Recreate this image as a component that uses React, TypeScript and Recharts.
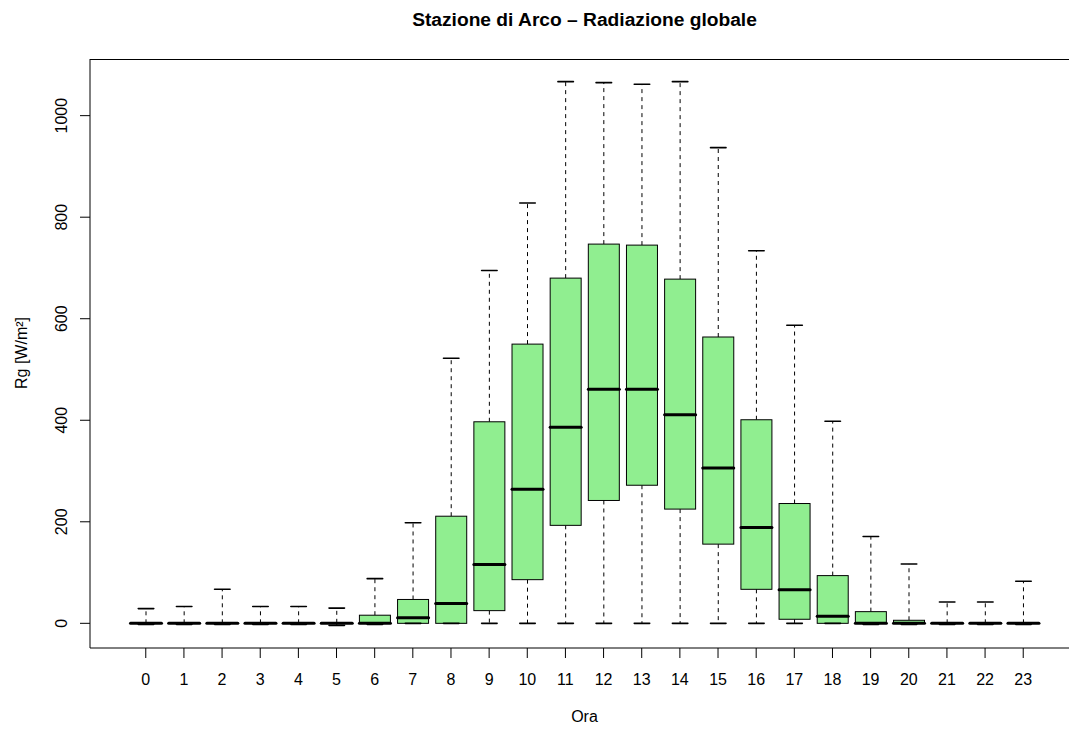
import React from 'react';
import { ComposedChart, Bar, XAxis, YAxis } from 'recharts';

const hours = [0, 1, 2, 3, 4, 5, 6, 7, 8, 9, 10, 11, 12, 13, 14, 15, 16, 17, 18, 19, 20, 21, 22, 23];
const whiskerLow = [-2, -2, -2, -2, -2, -4, -2, 0, 0, 0, 0, 0, 0, 0, 0, 0, 0, 0, 0, -2, -2, -2, -2, -2];
const q1Values = [0, 0, 0, 0, 0, 0, 0, 0, 0, 25, 86, 193, 242, 272, 225, 156, 67, 8, 0, 0, 0, 0, 0, 0];
const medianValues = [0, 0, 0, 0, 0, 0, 0, 11, 39, 116, 264, 386, 461, 461, 411, 306, 189, 66, 14, 0, 0, 0, 0, 0];
const q3Values = [0, 0, 0, 0, 0, 1, 16, 47, 211, 397, 550, 680, 747, 745, 678, 564, 401, 236, 94, 23, 6, 0, 0, 0];
const whiskerHigh = [29, 33, 67, 33, 33, 30, 88, 198, 522, 695, 828, 1067, 1065, 1062, 1067, 937, 734, 587, 398, 171, 117, 42, 42, 83];
const yTicks = [0, 200, 400, 600, 800, 1000];

const title = 'Stazione di Arco \u2013 Radiazione globale';
const xTitle = 'Ora';
const yTitle = 'Rg [W/m\u00B2]';

const data = hours.map((h, i) => ({
  hour: String(h),
  range: [whiskerLow[i], whiskerHigh[i]],
  lo: whiskerLow[i],
  q1: q1Values[i],
  med: medianValues[i],
  q3: q3Values[i],
  hi: whiskerHigh[i],
}));

const FONT = '"Liberation Sans", Arial, Helvetica, sans-serif';

const BoxShape = (props: any) => {
  const { x, y, width, height, payload } = props;
  if (payload == null || height == null) return null;
  const { lo, hi, q1, med, q3 } = payload;
  const k = height / (hi - lo);
  const py = (v: number) => y + (hi - v) * k;
  const cx = x + width / 2;
  const sw = width / 4;
  const yq1 = py(q1);
  const yq3 = py(q3);
  return (
    <g>
      <line x1={cx} x2={cx} y1={yq3} y2={py(hi)} stroke="#000" strokeWidth={1} strokeDasharray="4 4" />
      <line x1={cx} x2={cx} y1={yq1} y2={py(lo)} stroke="#000" strokeWidth={1} strokeDasharray="4 4" />
      <rect x={x} y={yq3} width={width} height={Math.max(0, yq1 - yq3)} fill="#90EE90" stroke="#000" strokeWidth={1} />
      <line x1={x} x2={x + width} y1={py(med)} y2={py(med)} stroke="#000" strokeWidth={3} strokeLinecap="round" />
      <line x1={cx - sw} x2={cx + sw} y1={py(hi)} y2={py(hi)} stroke="#000" strokeWidth={1.6} strokeLinecap="round" />
      <line x1={cx - sw} x2={cx + sw} y1={py(lo)} y2={py(lo)} stroke="#000" strokeWidth={1.6} strokeLinecap="round" />
    </g>
  );
};

const XTick = (props: any) => {
  const { x, payload } = props;
  return (
    <text x={x} y={685} textAnchor="middle" fontSize={16} fontFamily={FONT} fill="#000">
      {payload.value}
    </text>
  );
};

const YTick = (props: any) => {
  const { y, payload } = props;
  return (
    <text x={67} y={y} transform={`rotate(-90, 67, ${y})`} textAnchor="middle" fontSize={16} fontFamily={FONT} fill="#000">
      {payload.value}
    </text>
  );
};

export default function App() {
  return (
    <div style={{ position: 'absolute', left: 0, top: 0, width: 1069, height: 729, overflow: 'hidden', background: '#fff' }}>
      <ComposedChart
        width={1100}
        height={729}
        data={data}
        margin={{ top: 59, right: 21, bottom: 30, left: 30 }}
        barCategoryGap="10%"
      >
        <XAxis
          dataKey="hour"
          type="category"
          padding={{ left: 36.7, right: 36.7 }}
          height={51}
          tickSize={10}
          tickLine={{ stroke: '#000' }}
          axisLine={{ stroke: '#000' }}
          tick={<XTick />}
          interval={0}
        />
        <YAxis
          type="number"
          domain={[-48.6, 1111.6]}
          allowDataOverflow
          ticks={yTicks}
          width={60}
          tickSize={10}
          tickLine={{ stroke: '#000' }}
          axisLine={{ stroke: '#000' }}
          tick={<YTick />}
        />
        <Bar dataKey="range" shape={<BoxShape />} isAnimationActive={false} />
      </ComposedChart>
      <svg width={1069} height={729} style={{ position: 'absolute', left: 0, top: 0, pointerEvents: 'none' }}>
        <line x1={90} x2={1069} y1={59.5} y2={59.5} stroke="#000" strokeWidth={1} />
        <text x={584.5} y={26} textAnchor="middle" fontSize={19.2} fontWeight="bold" fontFamily={FONT} fill="#000">
          {title}
        </text>
        <text x={584.5} y={722} textAnchor="middle" fontSize={16} fontFamily={FONT} fill="#000">
          {xTitle}
        </text>
        <text x={27} y={353} transform="rotate(-90, 27, 353)" textAnchor="middle" fontSize={16} fontFamily={FONT} fill="#000">
          {yTitle}
        </text>
      </svg>
    </div>
  );
}
